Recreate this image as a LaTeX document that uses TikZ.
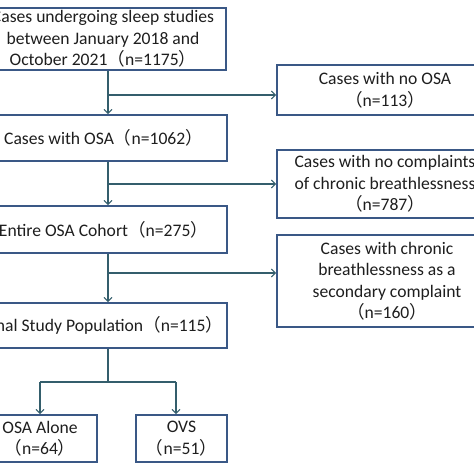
\documentclass[tikz,border=0pt]{standalone}
\usepackage{fontspec}
\setmainfont{Carlito}
\newfontfamily\cjk{Noto Sans CJK SC}
\usetikzlibrary{arrows.meta,calc}
\newcommand{\lpar}{{\cjk （}}
\newcommand{\rpar}{{\cjk ）}}
\definecolor{boxc}{RGB}{58,88,134}
\definecolor{linec}{RGB}{52,94,108}
\definecolor{txtc}{RGB}{30,30,30}
\tikzset{
  box/.style={draw=boxc, line width=1.6pt, fill=white, inner sep=0pt, align=center,
    text=txtc, font=\fontsize{17.6}{21.5}\selectfont},
  conn/.style={draw=linec, line width=1.3pt},
  arr/.style={conn, -{Straight Barb[length=4pt,width=8pt,line width=1.1pt]}}
}
\begin{document}
\begin{tikzpicture}[x=1pt,y=-1pt]
\useasboundingbox (0,0) rectangle (474,474);
\fill[white] (0,0) rectangle (474,474);
\clip (0,0) rectangle (474,474);
\node[box, minimum width=246pt, minimum height=62pt] (b1) at (103,39)
  {Cases undergoing sleep studies\\between January 2018 and\\October 2021\lpar n=1175\rpar};
\node[box, minimum width=247pt, minimum height=46pt] (b2) at (103.5,138)
  {Cases with OSA\lpar n=1062\rpar};
\node[box, minimum width=247pt, minimum height=47pt] (b5) at (103.5,229.5)
  {Entire OSA Cohort\lpar n=275\rpar};
\node[box, minimum width=247pt, minimum height=45pt] (b7) at (103.5,325.5)
  {Final Study Population\lpar n=115\rpar};
\node[box, minimum width=216pt, minimum height=50pt] (b3) at (385,90)
  {Cases with no OSA\\\lpar n=113\rpar};
\node[box, minimum width=216pt, minimum height=68pt] (b4) at (385,184)
  {Cases with no complaints\\of chronic breathlessness\\\lpar n=787\rpar};
\node[box, minimum width=220pt, minimum height=92pt] (b6) at (387,281)
  {Cases with chronic\\breathlessness as a\\secondary complaint\\\lpar n=160\rpar};
\node[box, minimum width=114pt, minimum height=47pt] (b8) at (40,438.5)
  {OSA Alone\\\lpar n=64\rpar};
\node[box, minimum width=91pt, minimum height=47pt] (b9) at (181.5,438.5)
  {OVS\\\lpar n=51\rpar};
\coordinate (c1) at (108,95);
\coordinate (c2) at (108,184);
\coordinate (c3) at (108,273);
\coordinate (c4) at (108,382);
\coordinate (l4) at (40,382);
\coordinate (r4) at (176,382);
\draw[arr] (b1.south -| c1) -- (b2.north -| c1);
\draw[arr] (c1) -- (b3.west |- c1);
\draw[arr] (b2.south -| c2) -- (b5.north -| c2);
\draw[arr] (c2) -- (b4.west |- c2);
\draw[arr] (b5.south -| c3) -- (b7.north -| c3);
\draw[arr] (c3) -- (b6.west |- c3);
\draw[conn] (b7.south -| c4) -- (c4);
\draw[conn] (l4) -- (r4);
\draw[arr] (l4) -- (b8.north -| l4);
\draw[arr] (r4) -- (b9.north -| r4);
\end{tikzpicture}
\end{document}
